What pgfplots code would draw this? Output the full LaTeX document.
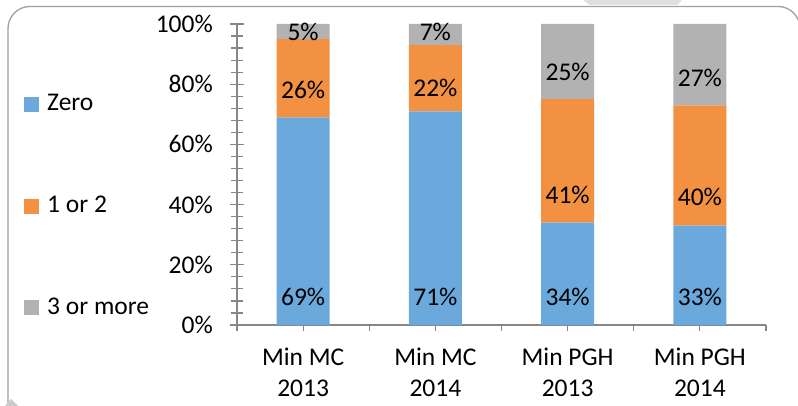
\documentclass[border=0pt]{standalone}
\usepackage{pgfplots}
\pgfplotsset{compat=1.18}
\usepackage{fontspec}
\setmainfont{Carlito}
\definecolor{cblue}{RGB}{107,169,220}
\definecolor{corange}{RGB}{242,145,66}
\definecolor{cgray}{RGB}{178,178,178}
\definecolor{axisgray}{RGB}{134,134,134}
\definecolor{framegray}{RGB}{160,160,160}
\newcommand\chartfont{\fontsize{25.5bp}{29bp}\selectfont}
\begin{document}
\chartfont
\begin{tikzpicture}
\path[use as bounding box] (0,0) rectangle (798bp,406bp);
% frame decoration
\fill[gray!25] (583bp,406bp) -- (682bp,406bp) -- (677bp,401bp) -- (590bp,401bp) -- cycle;
\draw[framegray, line width=1.3bp, rounded corners=22bp] (8bp,-6bp) -- (8bp,399.5bp) -- (800bp,399.5bp) -- (800bp,-6bp);
\fill[gray!40] (5bp,0bp) -- (18bp,0bp) -- (11bp,7bp) -- cycle;
\begin{axis}[
  at={(237bp,81bp)}, anchor=south west,
  width=529bp, height=301bp, scale only axis,
  xmin=-0.5, xmax=3.5, ymin=0, ymax=100,
  ybar stacked, bar width=0.4,
  axis lines*=left,
  axis line style={draw=axisgray, line width=1.2bp},
  tick style={draw=axisgray, line width=1.2bp},
  tick align=center,
  major tick length=13bp, minor tick length=11bp,
  xtick={0,1,2,3},
  xticklabels={{Min MC\\[1.5bp]2013},{Min MC\\[1.5bp]2014},{Min PGH\\[1.5bp]2013},{Min PGH\\[1.5bp]2014}},
  xticklabel style={align=center, font=\chartfont, yshift=-8bp},
  extra x ticks={-0.5,0.5,1.5,2.5,3.5},
  extra x tick labels={},
  extra x tick style={tick align=outside, major tick length=6bp},
  ytick={0,20,40,60,80,100},
  minor y tick num=4,
  yticklabel={\pgfmathprintnumber{\tick}\%},
  yticklabel style={font=\chartfont, xshift=-9bp},
  /pgf/number format/assume math mode=true,
  enlargelimits=false,
  clip=false,
  legend style={at={(-0.4026,0.395)}, anchor=west, draw=none, fill=none,
    inner sep=0pt, row sep=77.5bp, font=\chartfont},
  legend cell align=left,
  legend image code/.code={\fill[#1,draw=none] (0bp,-7.5bp) rectangle (15bp,7.5bp); \path (21bp,0bp);},
]
\addplot[fill=cblue, draw=none] coordinates {(0,69) (1,71) (2,34) (3,33)};
\addplot[fill=corange, draw=none] coordinates {(0,26) (1,22) (2,41) (3,40)};
\addplot[fill=cgray, draw=none] coordinates {(0,5) (1,7) (2,25) (3,27)};
\legend{Zero,1 or 2,3 or more}
\end{axis}
\begin{axis}[
  at={(237bp,81bp)}, anchor=south west,
  width=529bp, height=301bp, scale only axis,
  xmin=-0.5, xmax=3.5, ymin=0, ymax=100,
  hide axis, clip=false,
]
\addplot[draw=none, mark=none, nodes near coords={\pgfplotspointmeta\%},
  point meta=explicit symbolic, nodes near coords align=center,
  every node near coord/.append style={font=\chartfont, text=black, inner sep=0pt}]
  table[meta=lab] {
x y lab
0 9.3 69
1 9.3 71
2 9.3 34
3 9.3 33
0 78.1 26
1 78.7 22
2 43.2 41
3 42.5 40
0 97.3 5
1 97.3 7
2 84.0 25
3 82.0 27
};
\end{axis}
\end{tikzpicture}
\end{document}
